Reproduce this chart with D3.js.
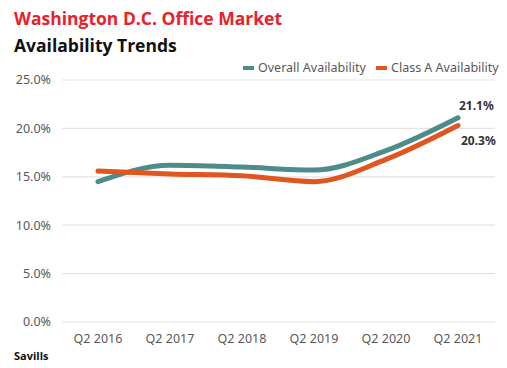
<!DOCTYPE html>
<html>
<head>
<meta charset="utf-8">
<script src="https://cdn.jsdelivr.net/npm/d3@7"></script>
<style>
  body { margin: 0; background: #fff; }
  svg { display: block; }
</style>
</head>
<body>
<script>
// data
const periods = ["Q2 2016", "Q2 2017", "Q2 2018", "Q2 2019", "Q2 2020", "Q2 2021"];
const overall = [14.5, 16.2, 16.0, 15.7, 17.7, 21.1];
const classA = [15.6, 15.3, 15.1, 14.5, 16.8, 20.3];
const yTicks = [0, 5, 10, 15, 20, 25];

const width = 507, height = 368;
const margin = { top: 80, right: 12, bottom: 46, left: 62 };
const axisFont = "'Noto Sans', Lato, sans-serif";

const svg = d3.select("body").append("svg")
  .attr("width", width)
  .attr("height", height);

const x = d3.scalePoint()
  .domain(periods)
  .range([98, 458]);

const y = d3.scaleLinear()
  .domain([0, 25])
  .range([height - margin.bottom, margin.top]);

// gridlines
svg.append("g")
  .selectAll("line")
  .data(yTicks)
  .join("line")
  .attr("x1", margin.left)
  .attr("x2", width - margin.right)
  .attr("y1", d => y(d))
  .attr("y2", d => y(d))
  .style("stroke", "#e3e3e3")
  .style("stroke-width", 1.2);

// y axis labels
svg.append("g")
  .selectAll("text")
  .data(yTicks)
  .join("text")
  .attr("x", 51)
  .attr("y", d => y(d))
  .attr("dy", "0.35em")
  .attr("text-anchor", "end")
  .style("font-family", axisFont)
  .style("font-size", "12.5px")
  .style("fill", "#595959")
  .text(d => d.toFixed(1) + "%");

// x axis labels
svg.append("g")
  .selectAll("text")
  .data(periods)
  .join("text")
  .attr("x", d => x(d))
  .attr("y", 343)
  .attr("text-anchor", "middle")
  .style("font-family", axisFont)
  .style("font-size", "12.5px")
  .style("fill", "#595959")
  .text(d => d);

const line = d3.line()
  .x((d, i) => x(periods[i]))
  .y(d => y(d))
  .curve(d3.curveMonotoneX);

const series = [
  { name: "Overall Availability", values: overall, color: "#4e8c8b" },
  { name: "Class A Availability", values: classA, color: "#e0561f" }
];

svg.append("g")
  .selectAll("path")
  .data(series)
  .join("path")
  .attr("d", d => line(d.values))
  .style("fill", "none")
  .style("stroke", d => d.color)
  .style("stroke-width", 5)
  .style("stroke-linecap", "round");

// end labels
const last = periods[periods.length - 1];
svg.append("text")
  .attr("x", x(last) + 1)
  .attr("y", 110)
  .style("font-family", axisFont)
  .style("font-weight", "bold")
  .style("font-size", "12px")
  .style("fill", "#333")
  .text(overall[overall.length - 1].toFixed(1) + "%");

svg.append("text")
  .attr("x", x(last) + 3)
  .attr("y", 145)
  .style("font-family", axisFont)
  .style("font-weight", "bold")
  .style("font-size", "12px")
  .style("fill", "#333")
  .text(classA[classA.length - 1].toFixed(1) + "%");

// legend
const legend = svg.append("g");
const legendX = [243, 376];
series.forEach((s, i) => {
  legend.append("line")
    .attr("x1", legendX[i])
    .attr("x2", legendX[i] + 11)
    .attr("y1", 68)
    .attr("y2", 68)
    .style("stroke", s.color)
    .style("stroke-width", 4);
  legend.append("text")
    .attr("x", legendX[i] + 15)
    .attr("y", 68)
    .attr("dy", "0.35em")
    .style("font-family", axisFont)
    .style("font-size", "12.5px")
    .style("fill", "#595959")
    .text(s.name);
});

// titles
svg.append("text")
  .attr("x", 14)
  .attr("y", 25)
  .style("font-family", "'Open Sans', sans-serif")
  .style("font-weight", "bold")
  .style("font-size", "17.5px")
  .style("fill", "#e8212b")
  .text("Washington D.C. Office Market");

svg.append("text")
  .attr("x", 14)
  .attr("y", 52)
  .style("font-family", "'Open Sans', sans-serif")
  .style("font-weight", "bold")
  .style("font-size", "17.5px")
  .style("fill", "#111")
  .text("Availability Trends");

svg.append("text")
  .attr("x", 14)
  .attr("y", 360)
  .style("font-family", "'Open Sans', sans-serif")
  .style("font-weight", "bold")
  .style("font-size", "11px")
  .style("fill", "#111")
  .text("Savills");
</script>
</body>
</html>
